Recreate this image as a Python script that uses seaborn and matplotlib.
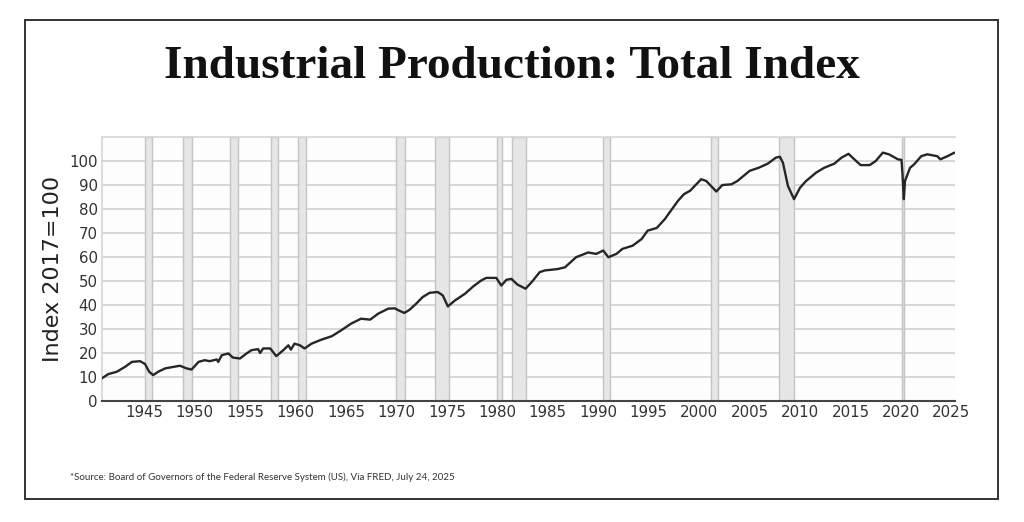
import matplotlib
matplotlib.use("Agg")
import matplotlib.pyplot as plt
import seaborn as sns
import pandas as pd
from matplotlib.patches import Rectangle

# values (decimal year, index 2017=100)
years = [
    1940.8, 1941.45, 1942.3, 1943.1, 1943.8, 1944.6, 1945.1, 1945.5, 1945.9, 1946.4,
    1947.1, 1947.9, 1948.55, 1949.2, 1949.7, 1950.4, 1951.0, 1951.5, 1952.2, 1952.35,
    1952.7, 1953.35, 1953.8, 1954.5, 1955.15, 1955.65, 1956.3, 1956.5, 1956.8, 1957.5,
    1958.1, 1958.8, 1959.3, 1959.55, 1959.9, 1960.45, 1960.9, 1961.6, 1962.6, 1963.6,
    1964.55, 1965.5, 1966.5, 1967.4, 1968.2, 1969.2, 1969.85, 1970.3, 1970.8, 1971.3,
    1971.95, 1972.6, 1973.3, 1974.1, 1974.6, 1975.1, 1975.8, 1976.8, 1977.6, 1978.4,
    1978.9, 1979.9, 1980.4, 1980.9, 1981.4, 1982.0, 1982.8, 1983.4, 1983.8, 1984.2,
    1984.7, 1986.0, 1986.7, 1987.8, 1989.0, 1989.8, 1990.5, 1991.0, 1991.8, 1992.4,
    1993.4, 1994.3, 1994.9, 1995.8, 1996.6, 1997.2, 1997.9, 1998.5, 1999.1, 2000.2,
    2000.7, 2001.7, 2002.3, 2003.2, 2003.8, 2005.0, 2005.9, 2006.8, 2007.6, 2008.0,
    2008.3, 2008.8, 2009.4, 2010.0, 2010.6, 2011.6, 2012.4, 2013.4, 2014.1, 2014.8,
    2015.2, 2016.0, 2016.9, 2017.5, 2018.2, 2018.8, 2019.7, 2020.05, 2020.15, 2020.28,
    2020.4, 2020.9, 2021.3, 2022.0, 2022.6, 2023.6, 2023.9, 2024.6, 2025.3,
]
index_values = [
    9.4, 11.2, 12.2, 14.2, 16.3, 16.6, 15.4, 12.2, 10.8, 12.2,
    13.6, 14.2, 14.7, 13.6, 13.1, 16.3, 17.0, 16.6, 17.3, 16.3,
    19.1, 19.8, 18.1, 17.7, 19.8, 21.2, 21.6, 20.0, 21.9, 21.9,
    18.7, 21.2, 23.2, 21.4, 23.9, 23.2, 21.9, 23.9, 25.6, 27.0,
    29.5, 32.2, 34.3, 33.9, 36.4, 38.5, 38.6, 37.6, 36.7, 38.0,
    40.5, 43.3, 45.1, 45.4, 44.0, 39.4, 41.9, 44.7, 47.7, 50.2,
    51.3, 51.3, 48.1, 50.5, 50.9, 48.5, 46.8, 49.5, 51.6, 53.7,
    54.4, 55.0, 55.7, 59.9, 61.9, 61.3, 62.7, 59.9, 61.3, 63.4,
    64.7, 67.5, 71.0, 72.1, 75.8, 79.3, 83.4, 86.2, 87.6, 92.4,
    91.7, 87.3, 90.0, 90.3, 91.7, 95.9, 97.2, 98.9, 101.4, 101.8,
    99.3, 89.6, 84.1, 88.9, 91.7, 95.2, 97.2, 98.9, 101.4, 103.0,
    101.4, 98.3, 98.3, 100.0, 103.5, 102.8, 100.7, 100.5, 94.5, 84.1,
    91.7, 97.2, 98.6, 102.0, 102.8, 102.0, 100.7, 102.0, 103.5,
]

# NBER recessions (start, end)
rec_start = [1945.08, 1948.83, 1953.5, 1957.58, 1960.25, 1969.92, 1973.83,
             1980.0, 1981.5, 1990.5, 2001.17, 2007.92, 2020.08]
rec_end = [1945.75, 1949.75, 1954.33, 1958.25, 1961.08, 1970.83, 1975.17,
           1980.5, 1982.83, 1991.17, 2001.83, 2009.42, 2020.25]

year_ticks = list(range(1945, 2030, 5))
value_ticks = list(range(0, 110, 10))

df = pd.DataFrame({"year": years, "value": index_values})

sns.set_theme(style="white")
plt.rcParams["font.family"] = ["DejaVu Sans"]

fig = plt.figure(figsize=(10.24, 5.22), dpi=100)
ax = fig.add_axes([0.0993, 0.2318, 0.8333, 0.5057])
ax.set_facecolor("#fdfdfd")

for s, e in zip(rec_start, rec_end):
    ax.axvspan(s, e, facecolor="#e6e6e6", edgecolor="#c4c4c4", lw=1.0, zorder=1)

for v in value_ticks[1:]:
    ax.axhline(v, color="#d6d6d6", lw=1.4, zorder=0.5)

sns.lineplot(data=df, x="year", y="value", color="#262626", lw=1.7, ax=ax, zorder=3)

ax.set_xlim(1940.8, 2025.35)
ax.set_ylim(0, 110)
ax.set_xticks(year_ticks)
ax.set_yticks(value_ticks)
ax.tick_params(axis="both", labelsize=10.8, colors="#333333", length=0, pad=3)
ax.set_xlabel("")
ax.set_ylabel("Index 2017=100", fontsize=16, color="#222222", labelpad=4)

for side in ["top", "left"]:
    ax.spines[side].set_color("#d6d6d6")
    ax.spines[side].set_linewidth(1.2)
ax.spines["right"].set_visible(False)
ax.spines["bottom"].set_color("#444444")
ax.spines["bottom"].set_linewidth(1.5)

fig.text(0.5, 0.872, "Industrial Production: Total Index", ha="center", va="center",
         fontsize=34, fontweight="bold", family=["Liberation Serif"], color="#111111")

fig.text(0.068, 0.086, "*Source: Board of Governors of the Federal Reserve System (US), Via FRED, July 24, 2025",
         ha="left", va="center", fontsize=7.0, family=["Lato"], color="#333333")

# outer frame
fig.patches.append(Rectangle((25 / 1024, 1 - 499 / 522), 973 / 1024, 479 / 522,
                             transform=fig.transFigure, fill=False,
                             edgecolor="#333333", lw=1.4))

fig.savefig("out.png", dpi=100)
